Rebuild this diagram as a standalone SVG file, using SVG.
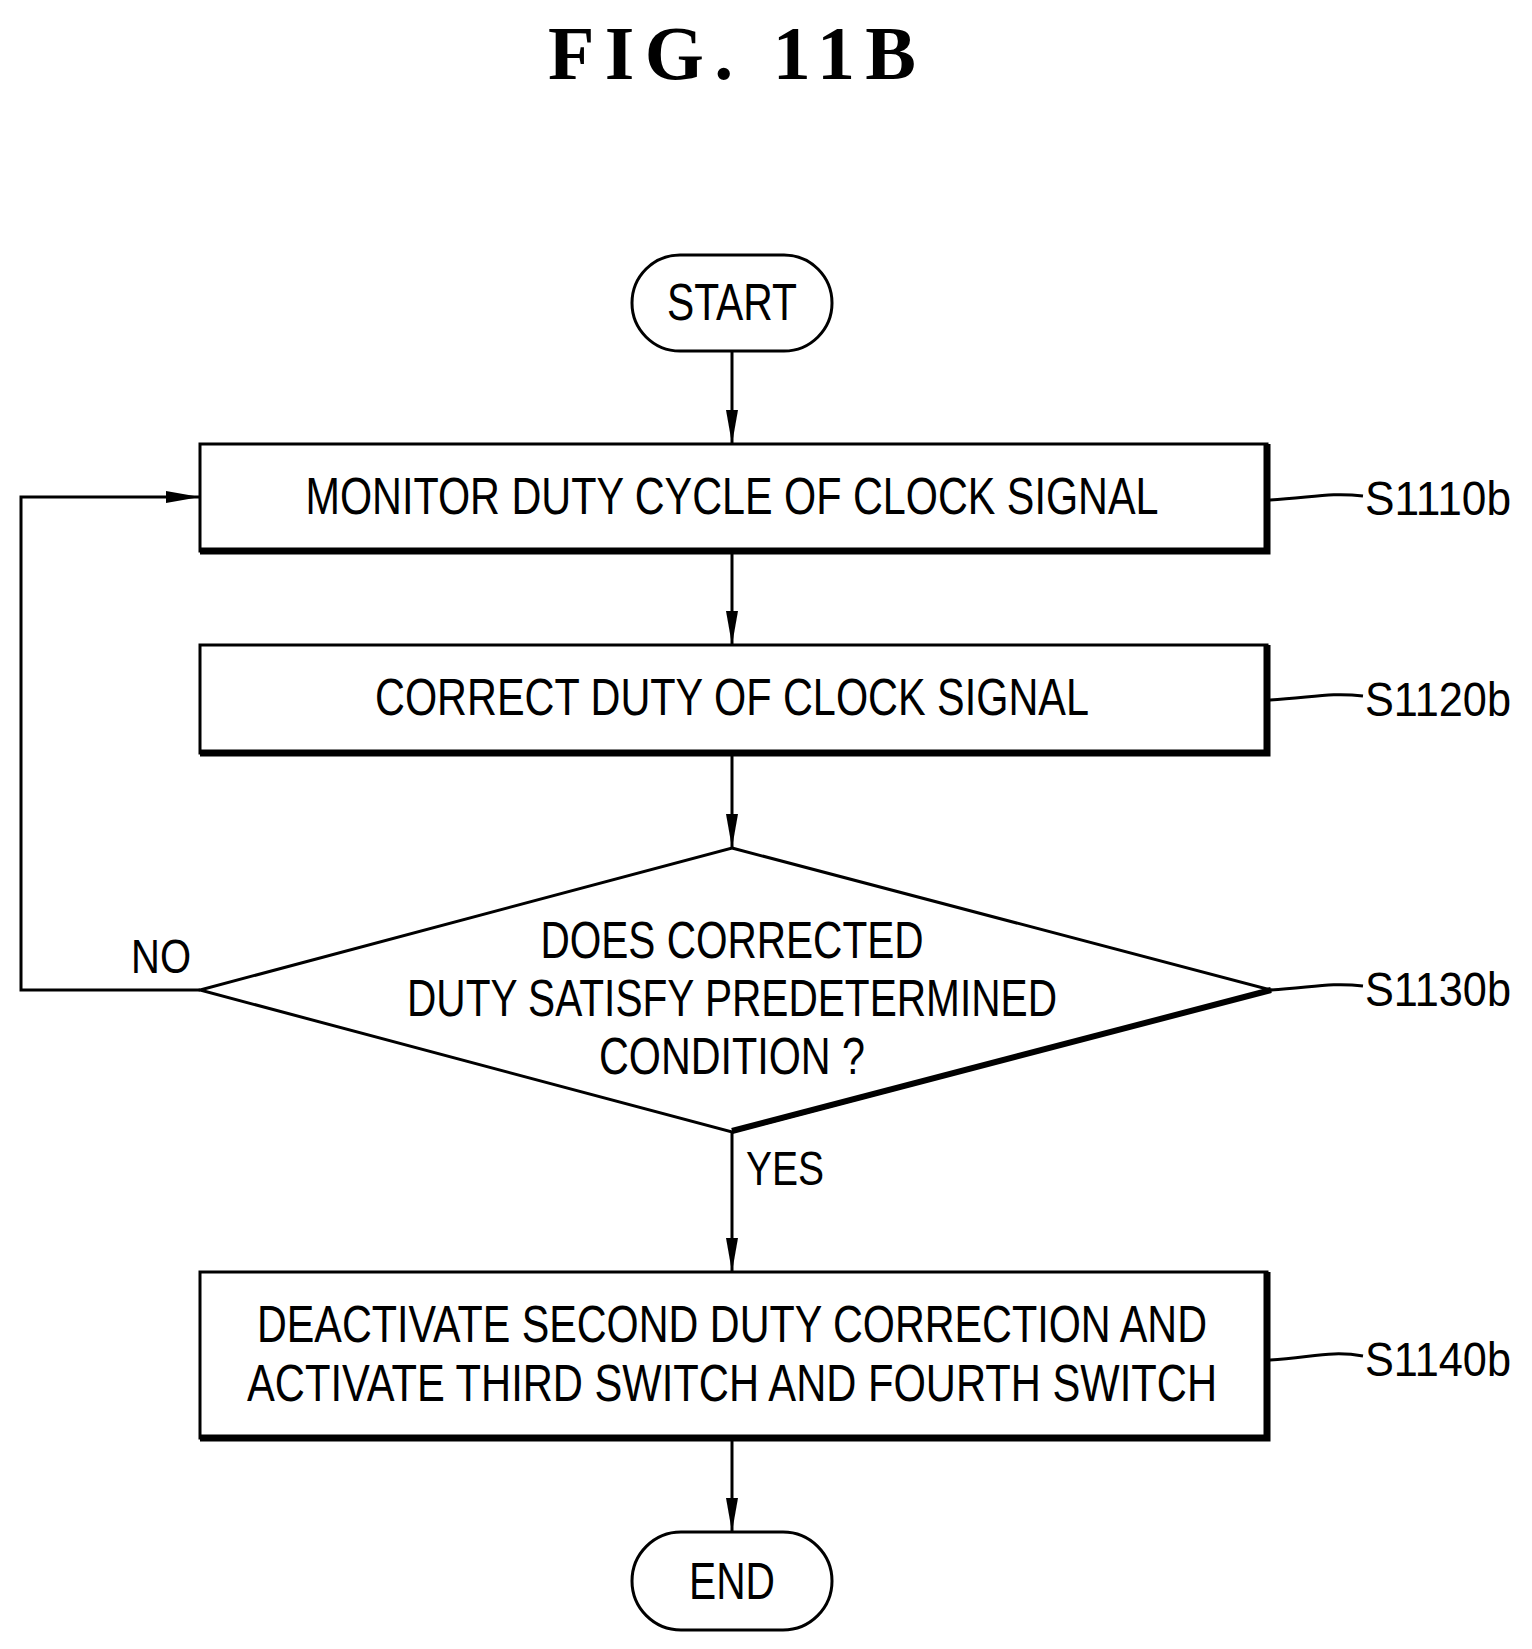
<svg xmlns="http://www.w3.org/2000/svg" width="1532" height="1649" viewBox="0 0 1532 1649">
<style>
.t{font-family:"Liberation Sans",Arial,sans-serif;font-size:52px;fill:#000;text-anchor:middle}
.l{font-family:"Liberation Sans",Arial,sans-serif;font-size:48px;fill:#000}
.s{fill:#fff;stroke:#000;stroke-width:3}
.sh{fill:none;stroke:#000;stroke-width:7}
.c{fill:none;stroke:#000;stroke-width:3}
</style>
<defs>
<marker id="b" markerWidth="36" markerHeight="16" refX="34" refY="8" orient="auto" markerUnits="userSpaceOnUse"><path d="M0,2 L34,8 L0,14 Z" fill="#000"/></marker></defs>
<text x="732" y="79" font-family="Liberation Serif,serif" font-weight="bold" font-size="76" text-anchor="middle" textLength="368" lengthAdjust="spacing">FIG.  11B</text>
<g id="connectors">
<line class="c" x1="732" y1="351" x2="732" y2="444" marker-end="url(#b)"/>
<line class="c" x1="732" y1="553" x2="732" y2="645" marker-end="url(#b)"/>
<line class="c" x1="732" y1="755" x2="732" y2="848" marker-end="url(#b)"/>
<line class="c" x1="732" y1="1132" x2="732" y2="1272" marker-end="url(#b)"/>
<line class="c" x1="732" y1="1440" x2="732" y2="1532" marker-end="url(#b)"/>
<polyline class="c" points="200,990 21,990 21,497 200,497" marker-end="url(#b)"/>
<text class="l" x="131" y="973" textLength="60" lengthAdjust="spacingAndGlyphs">NO</text>
<text class="l" x="746" y="1185" textLength="78" lengthAdjust="spacingAndGlyphs">YES</text>
</g>
<g id="start"><rect class="s" x="632" y="255" width="200" height="96" rx="48"/><text class="t" x="732" y="320" textLength="130" lengthAdjust="spacingAndGlyphs">START</text></g>
<g id="s1110b"><rect class="s" x="200" y="444" width="1067" height="107"/><path class="sh" d="M1267,444 V551 H200"/>
<text class="t" x="732" y="514" textLength="853" lengthAdjust="spacingAndGlyphs">MONITOR DUTY CYCLE OF CLOCK SIGNAL</text>
<path class="c" d="M1270,500 C1310,498 1330,492 1363,496"/><text class="l" x="1365" y="515" textLength="146" lengthAdjust="spacingAndGlyphs">S1110b</text></g>
<g id="s1120b"><rect class="s" x="200" y="645" width="1067" height="108"/><path class="sh" d="M1267,645 V753 H200"/>
<text class="t" x="732" y="715" textLength="714" lengthAdjust="spacingAndGlyphs">CORRECT DUTY OF CLOCK SIGNAL</text>
<path class="c" d="M1270,700 C1310,698 1330,692 1363,696"/><text class="l" x="1365" y="716" textLength="146" lengthAdjust="spacingAndGlyphs">S1120b</text></g>
<g id="s1130b"><polygon class="s" points="732,848 1271,990 732,1132 200,990"/><line x1="732" y1="1131" x2="1271" y2="990" stroke="#000" stroke-width="6"/>
<text class="t" x="732" y="958" textLength="383" lengthAdjust="spacingAndGlyphs">DOES CORRECTED</text>
<text class="t" x="732" y="1016" textLength="650" lengthAdjust="spacingAndGlyphs">DUTY SATISFY PREDETERMINED</text>
<text class="t" x="732" y="1074" textLength="266" lengthAdjust="spacingAndGlyphs">CONDITION ?</text>
<path class="c" d="M1271,990 C1310,988 1330,982 1363,986"/><text class="l" x="1365" y="1006" textLength="146" lengthAdjust="spacingAndGlyphs">S1130b</text></g>
<g id="s1140b"><rect class="s" x="200" y="1272" width="1067" height="166"/><path class="sh" d="M1267,1272 V1438 H200"/>
<text class="t" x="732" y="1342" textLength="950" lengthAdjust="spacingAndGlyphs">DEACTIVATE SECOND DUTY CORRECTION AND</text>
<text class="t" x="732" y="1401" textLength="970" lengthAdjust="spacingAndGlyphs">ACTIVATE THIRD SWITCH AND FOURTH SWITCH</text>
<path class="c" d="M1270,1360 C1310,1358 1330,1350 1363,1356"/><text class="l" x="1365" y="1376" textLength="146" lengthAdjust="spacingAndGlyphs">S1140b</text></g>
<g id="end"><rect class="s" x="632" y="1532" width="200" height="98" rx="49"/><text class="t" x="732" y="1599" textLength="86" lengthAdjust="spacingAndGlyphs">END</text></g>
</svg>
